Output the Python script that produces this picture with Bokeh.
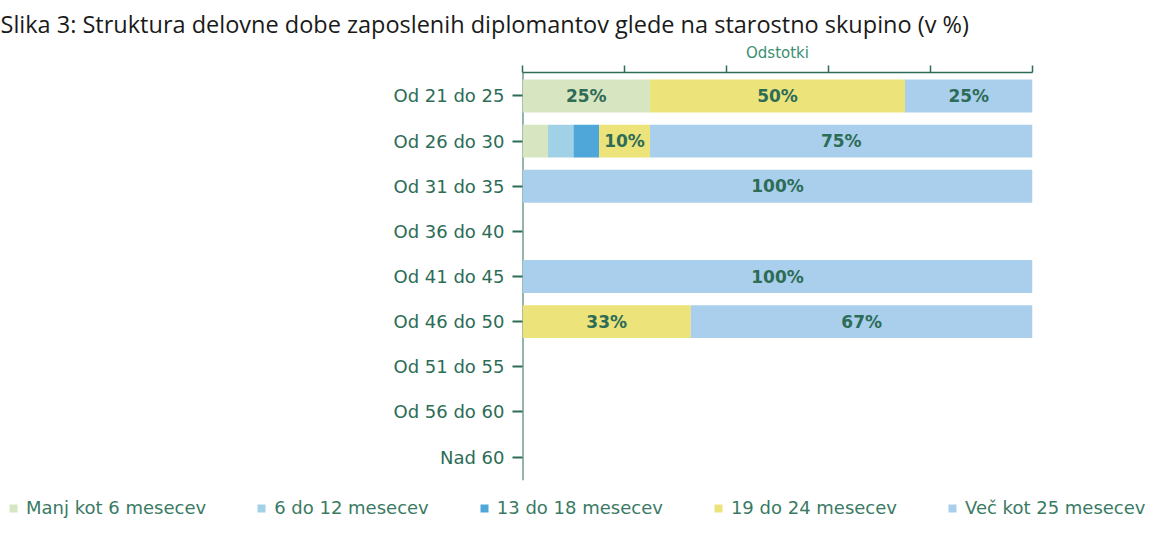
from bokeh.plotting import figure
from bokeh.layouts import column
from bokeh.models import Range1d, FixedTicker, Legend, LegendItem, Span, Title, ColumnDataSource
from bokeh.embed import file_html
from bokeh.resources import INLINE
from bokeh.core.properties import value

# ---------------- data ----------------
categories = ["Od 21 do 25", "Od 26 do 30", "Od 31 do 35", "Od 36 do 40", "Od 41 do 45",
              "Od 46 do 50", "Od 51 do 55", "Od 56 do 60", "Nad 60"]
series = ["Manj kot 6 mesecev", "6 do 12 mesecev", "13 do 18 mesecev",
          "19 do 24 mesecev", "Več kot 25 mesecev"]
manj_6 = [25, 5, 0, 0, 0, 0, 0, 0, 0]
od_6_12 = [0, 5, 0, 0, 0, 0, 0, 0, 0]
od_13_18 = [0, 5, 0, 0, 0, 0, 0, 0, 0]
od_19_24 = [50, 10, 0, 0, 0, 33, 0, 0, 0]
vec_25 = [25, 75, 100, 0, 100, 67, 0, 0, 0]
x_ticks = [0, 20, 40, 60, 80, 100]
title_text = "Slika 3: Struktura delovne dobe zaposlenih diplomantov glede na starostno skupino  (v %)"
axis_title = "Odstotki"

colors = ["#d8e5c1", "#a0d1e6", "#4ea6d9", "#ece37b", "#a9cfec"]
DARK = "#2d6c56"
FONT = "DejaVu Sans"

keys = ["s0", "s1", "s2", "s3", "s4"]
values_list = [manj_6, od_6_12, od_13_18, od_19_24, vec_25]
ypos = list(range(len(categories)))
data = {"y": ypos}
for k, v in zip(keys, values_list):
    data[k] = v
source = ColumnDataSource(data)

# ---------------- main figure ----------------
W = 1152
H_MAIN, H_LEG = 490, 28
FRAME_LEFT = 522
p = figure(width=W, height=H_MAIN, output_backend="svg", toolbar_location=None,
           x_range=Range1d(0, 100), y_range=Range1d(8.52, -0.52),
           x_axis_location="above", min_border_left=FRAME_LEFT, min_border_right=120,
           min_border_top=72, min_border_bottom=10)
p.frame_align = False
p.outline_line_color = None
p.grid.visible = False
p.background_fill_color = "white"
p.border_fill_color = "white"

# left axis line under bars
p.add_layout(Span(location=0, dimension="height", line_color=DARK, line_width=2, level="underlay"))

renderers = p.hbar_stack(keys, y="y", height=0.73, color=colors, line_color=None, source=source)

# segment labels
lx, ly, lt = [], [], []
for i in range(len(categories)):
    start = 0
    for v in values_list:
        val = v[i]
        if val >= 10:
            lx.append(start + val / 2)
            ly.append(ypos[i])
            lt.append(f"{val}%")
        start += val
p.text(x=lx, y=ly, text=lt, text_align="center", text_baseline="middle",
       text_font=value(FONT), text_font_style="bold", text_font_size="17px", text_color=DARK)

# top axis
xa = p.xaxis[0]
xa.ticker = FixedTicker(ticks=x_ticks)
xa.major_label_overrides = {t: "" for t in x_ticks}
xa.major_label_text_font_size = "1px"
xa.major_label_standoff = 0
xa.major_tick_out = 7
xa.major_tick_in = 0
xa.minor_tick_line_color = None
xa.axis_line_color = DARK
xa.axis_line_width = 1.5
xa.major_tick_line_color = DARK
xa.major_tick_line_width = 1.5
xa.axis_label = axis_title
xa.axis_label_text_font = FONT
xa.axis_label_text_font_style = "normal"
xa.axis_label_text_font_size = "15px"
xa.axis_label_text_color = "#3a8f70"
xa.axis_label_standoff = 4

# left axis
ya = p.yaxis[0]
ya.ticker = FixedTicker(ticks=ypos)
ya.major_label_overrides = {i: c for i, c in zip(ypos, categories)}
ya.major_label_text_font = FONT
ya.major_label_text_font_size = "18px"
ya.major_label_text_color = DARK
ya.major_label_standoff = 8
ya.major_tick_out = 10
ya.major_tick_in = 0
ya.major_tick_line_color = DARK
ya.major_tick_line_width = 2
ya.minor_tick_line_color = None
ya.axis_line_color = None

# title
p.add_layout(Title(text=title_text, align="left", offset=-FRAME_LEFT, text_font="Open Sans",
                   text_font_size="23.5px", text_font_style="normal", text_color="#1a1a1a",
                   standoff=2), "above")

# ---------------- legend strip ----------------
q = figure(width=W, height=H_LEG, output_backend="svg", toolbar_location=None,
           x_range=Range1d(0, 1), y_range=Range1d(0, 1),
           min_border_left=0, min_border_right=0, min_border_top=0, min_border_bottom=0)
q.frame_align = False
q.axis.visible = False
q.grid.visible = False
q.outline_line_color = None
q.border_fill_color = "white"
q.background_fill_color = "white"
leg_renderers = [q.hbar(y=[-5], left=[0], right=[0.1], height=0.5, color=c, line_color=None)
                 for c in colors]
legend = Legend(items=[LegendItem(label=s, renderers=[r]) for s, r in zip(series, leg_renderers)],
                orientation="horizontal", location=(8, 0),
                glyph_width=10, glyph_height=10, label_standoff=8, spacing=50,
                padding=0, margin=0, border_line_color=None, background_fill_alpha=0,
                label_text_font=FONT, label_text_font_size="18px", label_text_color="#3a7a64",
                label_height=18)
q.add_layout(legend)

layout = column(p, q, spacing=0)
open("out.html", "w").write(file_html(layout, INLINE))
